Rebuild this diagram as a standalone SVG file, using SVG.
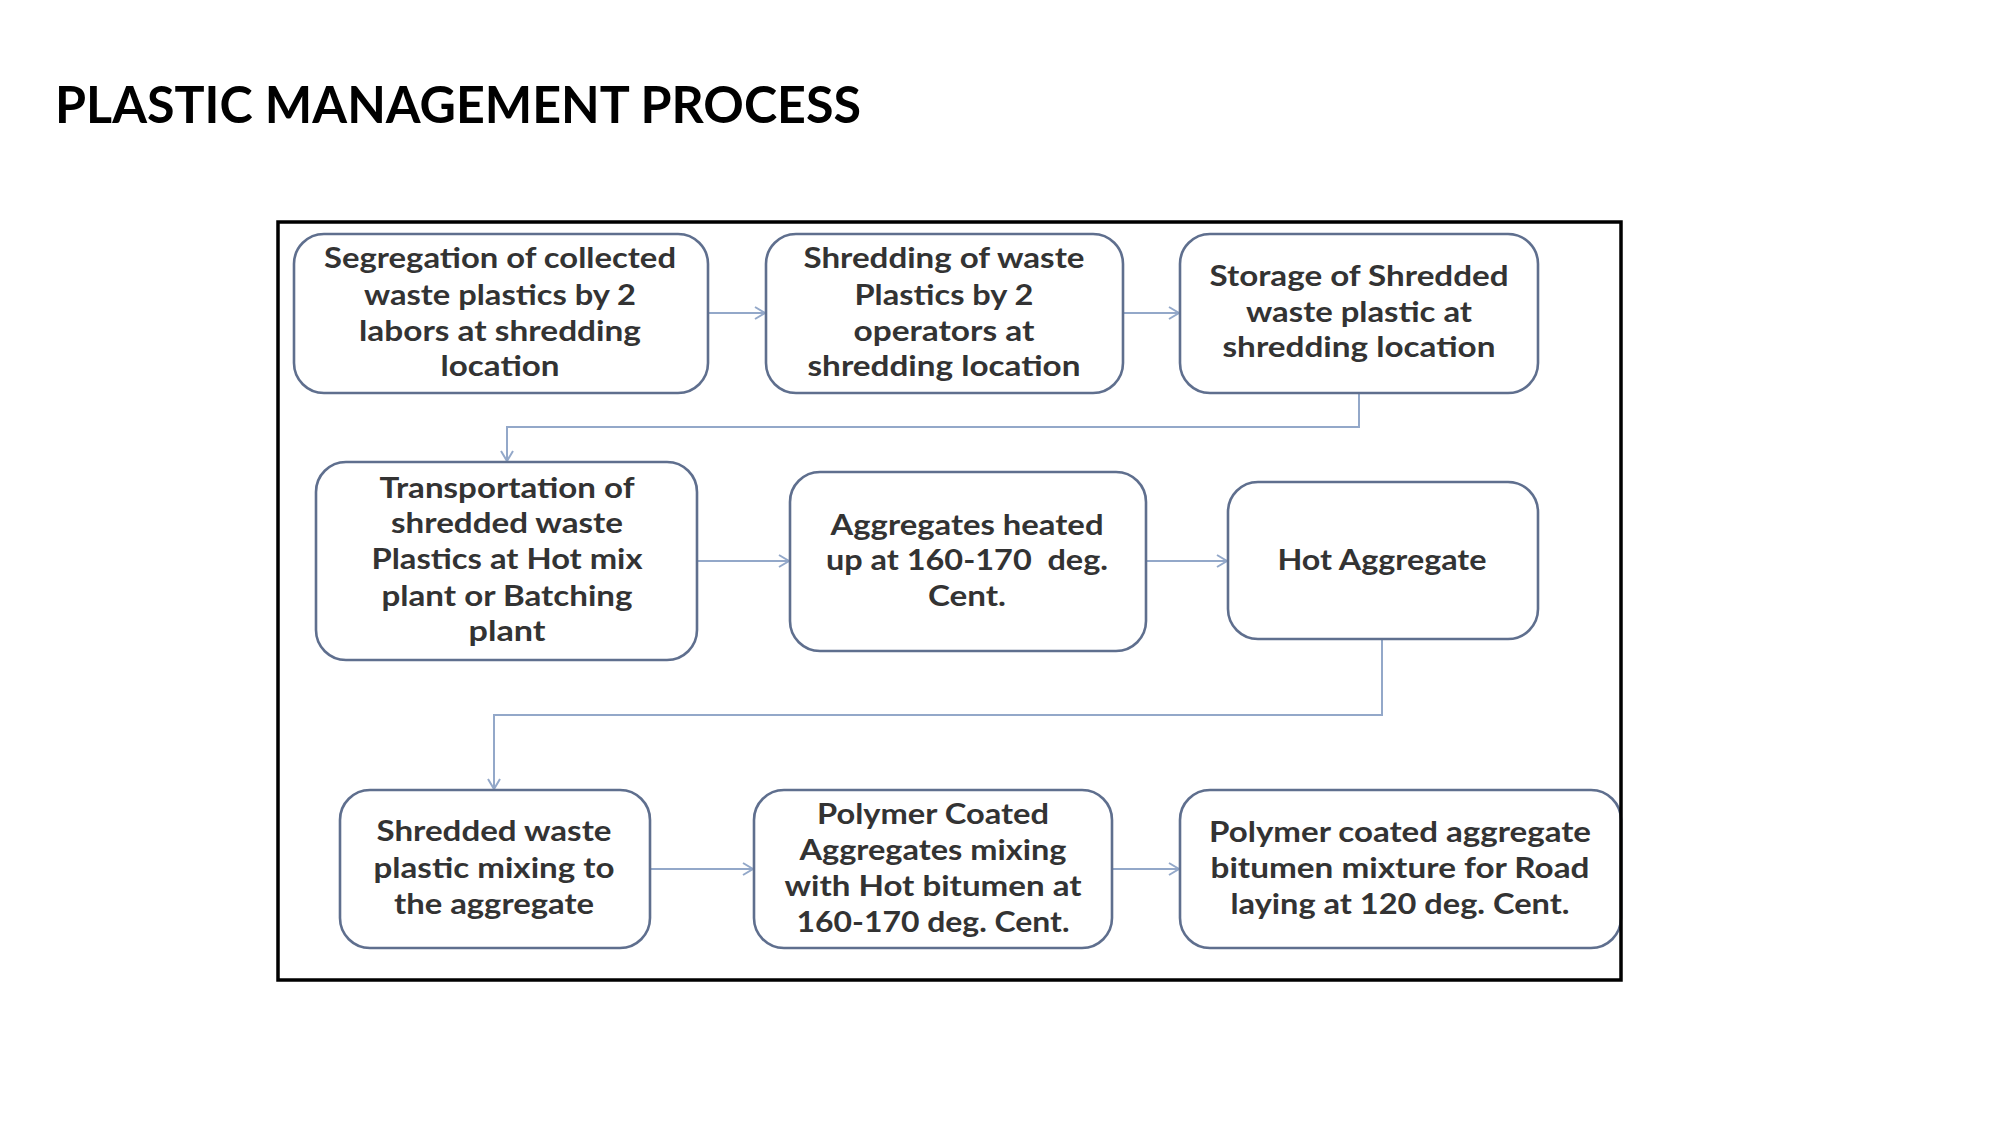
<svg xmlns="http://www.w3.org/2000/svg" width="2001" height="1125" viewBox="0 0 2001 1125">
<defs>
<style>
.box{fill:#fff;stroke:#5f6f8e;stroke-width:2.6}
.t{font-family:Lato,"Liberation Sans",sans-serif;font-weight:700;font-size:29px;fill:#333;text-anchor:middle}
.c{fill:none;stroke:#93a8c9;stroke-width:2}
.title{font-family:Lato,"Liberation Sans",sans-serif;font-weight:700;font-size:52px;fill:#000}
</style>
<marker id="ah" markerWidth="14" markerHeight="14" refX="12" refY="7" orient="auto" markerUnits="userSpaceOnUse">
<path d="M2,1 L12,7 L2,13" fill="none" stroke="#93a8c9" stroke-width="2"/>
</marker>
</defs>
<rect width="2001" height="1125" fill="#fff"/>
<text class="title" x="55" y="123" textLength="806" lengthAdjust="spacingAndGlyphs">PLASTIC MANAGEMENT PROCESS</text>

<g id="connectors">
<line class="c" x1="708" y1="313" x2="765" y2="313" marker-end="url(#ah)"/>
<line class="c" x1="1123" y1="313" x2="1179" y2="313" marker-end="url(#ah)"/>
<path class="c" d="M1359,393 V427 H507 V461" marker-end="url(#ah)"/>
<line class="c" x1="697" y1="561" x2="789" y2="561" marker-end="url(#ah)"/>
<line class="c" x1="1146" y1="561" x2="1227" y2="561" marker-end="url(#ah)"/>
<path class="c" d="M1382,639 V715 H494 V789" marker-end="url(#ah)"/>
<line class="c" x1="650" y1="869" x2="753" y2="869" marker-end="url(#ah)"/>
<line class="c" x1="1112" y1="869" x2="1179" y2="869" marker-end="url(#ah)"/>
</g>

<g id="n1">
<rect class="box" x="294" y="234" width="414" height="159" rx="30"/>
<text class="t" x="500" y="268" textLength="352" lengthAdjust="spacingAndGlyphs">Segregation of collected</text>
<text class="t" x="500" y="305" textLength="272" lengthAdjust="spacingAndGlyphs">waste plastics by 2</text>
<text class="t" x="500" y="341" textLength="282" lengthAdjust="spacingAndGlyphs">labors at shredding</text>
<text class="t" x="500" y="376" textLength="119" lengthAdjust="spacingAndGlyphs">location</text>
</g>
<g id="n2">
<rect class="box" x="766" y="234" width="357" height="159" rx="30"/>
<text class="t" x="944" y="268" textLength="281" lengthAdjust="spacingAndGlyphs">Shredding of waste</text>
<text class="t" x="944" y="305" textLength="179" lengthAdjust="spacingAndGlyphs">Plastics by 2</text>
<text class="t" x="944" y="341" textLength="181" lengthAdjust="spacingAndGlyphs">operators at</text>
<text class="t" x="944" y="376" textLength="273" lengthAdjust="spacingAndGlyphs">shredding location</text>
</g>
<g id="n3">
<rect class="box" x="1180" y="234" width="358" height="159" rx="30"/>
<text class="t" x="1359" y="286" textLength="299" lengthAdjust="spacingAndGlyphs">Storage of Shredded</text>
<text class="t" x="1359" y="322" textLength="226" lengthAdjust="spacingAndGlyphs">waste plastic at</text>
<text class="t" x="1359" y="357" textLength="273" lengthAdjust="spacingAndGlyphs">shredding location</text>
</g>
<g id="n4">
<rect class="box" x="316" y="462" width="381" height="198" rx="30"/>
<text class="t" x="507" y="498" textLength="255" lengthAdjust="spacingAndGlyphs">Transportation of</text>
<text class="t" x="507" y="533" textLength="232" lengthAdjust="spacingAndGlyphs">shredded waste</text>
<text class="t" x="507" y="569" textLength="271" lengthAdjust="spacingAndGlyphs">Plastics at Hot mix</text>
<text class="t" x="507" y="606" textLength="251" lengthAdjust="spacingAndGlyphs">plant or Batching</text>
<text class="t" x="507" y="641" textLength="77" lengthAdjust="spacingAndGlyphs">plant</text>
</g>
<g id="n5">
<rect class="box" x="790" y="472" width="356" height="179" rx="30"/>
<text class="t" x="967" y="535" textLength="273" lengthAdjust="spacingAndGlyphs">Aggregates heated</text>
<text class="t" x="967" y="570" textLength="282" lengthAdjust="spacingAndGlyphs" xml:space="preserve" style="white-space:pre">up at 160-170  deg.</text>
<text class="t" x="967" y="606" textLength="78" lengthAdjust="spacingAndGlyphs">Cent.</text>
</g>
<g id="n6">
<rect class="box" x="1228" y="482" width="310" height="157" rx="30"/>
<text class="t" x="1382" y="570" textLength="209" lengthAdjust="spacingAndGlyphs">Hot Aggregate</text>
</g>
<g id="n7">
<rect class="box" x="340" y="790" width="310" height="158" rx="30"/>
<text class="t" x="494" y="841" textLength="235" lengthAdjust="spacingAndGlyphs">Shredded waste</text>
<text class="t" x="494" y="878" textLength="241" lengthAdjust="spacingAndGlyphs">plastic mixing to</text>
<text class="t" x="494" y="914" textLength="200" lengthAdjust="spacingAndGlyphs">the aggregate</text>
</g>
<g id="n8">
<rect class="box" x="754" y="790" width="358" height="158" rx="30"/>
<text class="t" x="933" y="824" textLength="232" lengthAdjust="spacingAndGlyphs">Polymer Coated</text>
<text class="t" x="933" y="860" textLength="267" lengthAdjust="spacingAndGlyphs">Aggregates mixing</text>
<text class="t" x="933" y="896" textLength="297" lengthAdjust="spacingAndGlyphs">with Hot bitumen at</text>
<text class="t" x="933" y="932" textLength="273" lengthAdjust="spacingAndGlyphs">160-170 deg. Cent.</text>
</g>
<g id="n9">
<rect class="box" x="1180" y="790" width="441" height="158" rx="30"/>
<text class="t" x="1400" y="842" textLength="382" lengthAdjust="spacingAndGlyphs">Polymer coated aggregate</text>
<text class="t" x="1400" y="878" textLength="379" lengthAdjust="spacingAndGlyphs">bitumen mixture for Road</text>
<text class="t" x="1400" y="914" textLength="339" lengthAdjust="spacingAndGlyphs">laying at 120 deg. Cent.</text>
</g>

<rect x="278" y="222" width="1343" height="758" fill="none" stroke="#000" stroke-width="3.5"/>
</svg>
